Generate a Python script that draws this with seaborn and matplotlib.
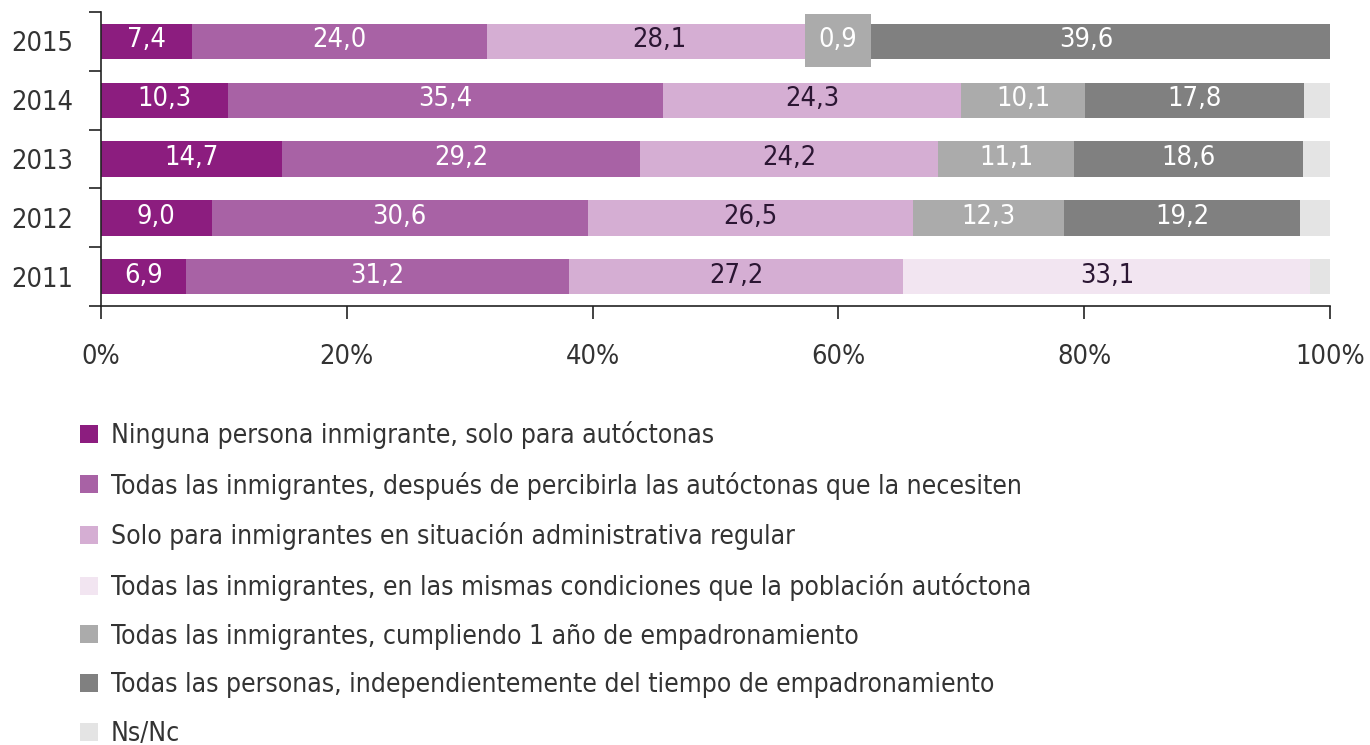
import numpy as np
import pandas as pd
import matplotlib
matplotlib.use("Agg")
import matplotlib.pyplot as plt
import seaborn as sns

# =========================
# DATA
# =========================
years = ["2015", "2014", "2013", "2012", "2011"]

categories = [
    "Ninguna persona inmigrante, solo para autóctonas",
    "Todas las inmigrantes, después de percibirla las autóctonas que la necesiten",
    "Solo para inmigrantes en situación administrativa regular",
    "Todas las inmigrantes, en las mismas condiciones que la población autóctona",
    "Todas las inmigrantes, cumpliendo 1 año de empadronamiento",
    "Todas las personas, independientemente del tiempo de empadronamiento",
    "Ns/Nc",
]

ninguna = [7.4, 10.3, 14.7, 9.0, 6.9]
despues = [24.0, 35.4, 29.2, 30.6, 31.2]
regular = [28.1, 24.3, 24.2, 26.5, 27.2]
mismas = [0.0, 0.0, 0.0, 0.0, 33.1]
un_anio = [0.9, 10.1, 11.1, 12.3, 0.0]
todas = [39.6, 17.8, 18.6, 19.2, 0.0]
nsnc = [0.0, 2.1, 2.2, 2.4, 1.6]

series = [ninguna, despues, regular, mismas, un_anio, todas, nsnc]

colors = ["#8c1d7f", "#a862a5", "#d5aed3", "#f2e5f1", "#ababab", "#808080", "#e4e4e4"]
label_colors = ["white", "white", "#2b1633", "#2b1633", "white", "white", None]

# =========================
# STYLE
# =========================
sns.set_theme(style="white")
plt.rcParams["font.family"] = ["DejaVu Sans"]
plt.rcParams["font.stretch"] = "condensed"

fig = plt.figure(figsize=(13.7, 7.45), dpi=100)
ax = fig.add_axes([0.0737, 0.589, 0.897, 0.395])

df = pd.DataFrame(dict(zip(categories, series)), index=years)
cum = df.cumsum(axis=1)

# draw stacked bars back to front
for i in range(len(categories) - 1, -1, -1):
    sns.barplot(x=cum.iloc[:, i].values, y=years, orient="h",
                color=colors[i], width=0.6, saturation=1,
                edgecolor="none", ax=ax, label=categories[i])

# value labels
for i, cat in enumerate(categories):
    if label_colors[i] is None:
        continue
    for j, year in enumerate(years):
        v = df.loc[year, cat]
        if v <= 0:
            continue
        xc = cum.loc[year, cat] - v / 2
        txt = f"{v:.1f}".replace(".", ",")
        kw = {}
        if v < 2:
            kw["bbox"] = dict(boxstyle="square,pad=0.5", fc=colors[i], ec="none")
        ax.text(xc, j - 0.02, txt, ha="center", va="center", fontsize=19.5,
                color=label_colors[i], **kw)

ax.set_xlim(0, 100)
ax.set_ylim(4.5, -0.5)
ax.set_xticks(np.arange(0, 101, 20))
ax.set_xticklabels([f"{t}%" for t in range(0, 101, 20)])
ax.set_yticks(range(len(years)))
ax.set_yticklabels(years)
ax.set_yticks(np.arange(-0.5, 5, 1), minor=True)
ax.tick_params(axis="y", which="major", length=0, pad=20, labelsize=19.5, labelcolor="#333333")
ax.tick_params(axis="y", which="minor", length=9, width=1.2, color="#222222", left=True)
ax.tick_params(axis="x", length=9, width=1.2, color="#222222", bottom=True,
               pad=18, labelsize=19.5, labelcolor="#333333")
ax.set_xlabel("")
ax.set_ylabel("")
for s in ["top", "right"]:
    ax.spines[s].set_visible(False)
for s in ["left", "bottom"]:
    ax.spines[s].set_color("#222222")
    ax.spines[s].set_linewidth(1.2)

# legend in original order
handles, labels = ax.get_legend_handles_labels()
order = {c: k for k, c in enumerate(categories)}
pairs = sorted(zip(handles, labels), key=lambda p: order[p[1]])
if ax.get_legend():
    ax.get_legend().remove()
fig.legend([p[0] for p in pairs], [p[1] for p in pairs],
           loc="upper left", bbox_to_anchor=(0.041, 0.467), frameon=False,
           ncol=1, fontsize=19, handlelength=0.68, handleheight=0.68,
           handletextpad=0.5, labelspacing=0.86, labelcolor="#333333")

fig.savefig("out.png", dpi=100, facecolor="white")
